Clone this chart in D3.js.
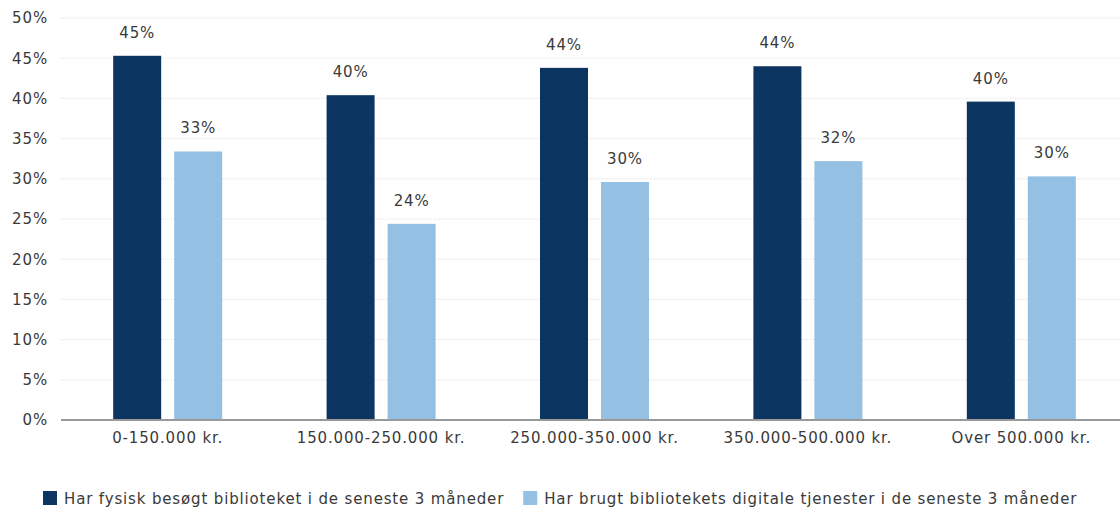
<!DOCTYPE html>
<html><head><meta charset="utf-8">
<script src="https://cdn.jsdelivr.net/npm/d3@7"></script>
<style>body{margin:0;background:#fff}svg{display:block}text{font-family:"DejaVu Sans",sans-serif;fill:#3a3a3a;letter-spacing:0.85px}</style>
</head><body><svg id="c" width="1120" height="507"></svg>
<script>
const categories=["0-150.000 kr.","150.000-250.000 kr.","250.000-350.000 kr.","350.000-500.000 kr.","Over 500.000 kr."];
const seriesNames=["Har fysisk besøgt biblioteket i de seneste 3 måneder","Har brugt bibliotekets digitale tjenester i de seneste 3 måneder"];
const physical=[45.3,40.4,43.8,44.0,39.6];
const digital=[33.4,24.4,29.6,32.2,30.3];
const yTicks=[0,5,10,15,20,25,30,35,40,45,50];
const colors=["#0c3561","#94c1e3"];

const svg=d3.select("#c");
const W=1120,H=507;
const x=d3.scaleBand().domain(categories).range([61,1128]);
const y=d3.scaleLinear().domain([0,50]).range([420,18]);
const bw=48,gap=13;

svg.append("g").selectAll("line").data(yTicks.filter(d=>d>0)).join("line")
 .attr("x1",61).attr("x2",W).attr("y1",d=>y(d)).attr("y2",d=>y(d))
 .attr("stroke","#ececec").attr("stroke-width",1).attr("stroke-dasharray","3,1");

const yAxis=d3.axisLeft(y).tickValues(yTicks).tickFormat(d=>d+"%").tickSize(0).tickPadding(13);
const ya=svg.append("g").attr("transform","translate(61,0)").call(yAxis);
ya.select(".domain").remove();
ya.selectAll("text").attr("font-size",15).attr("fill","#3a3a3a").style("font-family","DejaVu Sans");

const data=[physical,digital];
data.forEach((vals,si)=>{
  const off=si===0?-(bw+gap/2):gap/2;
  const g=svg.append("g");
  g.selectAll("rect").data(vals).join("rect")
   .attr("x",(d,i)=>x(categories[i])+x.bandwidth()/2+off)
   .attr("width",bw)
   .attr("y",d=>y(d)).attr("height",d=>y(0)-y(d))
   .attr("fill",colors[si]);
  g.selectAll("text").data(vals).join("text")
   .attr("x",(d,i)=>x(categories[i])+x.bandwidth()/2+off+bw/2)
   .attr("y",d=>y(d)-18)
   .attr("text-anchor","middle").attr("font-size",15)
   .text(d=>Math.round(d)+"%");
});

const xAxis=d3.axisBottom(x).tickSize(0).tickPadding(12);
const xa=svg.append("g").attr("transform",`translate(0,${y(0)})`).call(xAxis);
xa.select(".domain").attr("stroke","#999").attr("stroke-width",2).attr("d","M61,0H1128");
xa.selectAll("text").attr("font-size",15).attr("fill","#3a3a3a").style("font-family","DejaVu Sans");

const leg=svg.append("g").attr("transform","translate(43,491)");
let lx=0;
seriesNames.forEach((n,i)=>{
  const g=leg.append("g").attr("transform",`translate(${lx},0)`);
  g.append("rect").attr("width",14).attr("height",14).attr("fill",colors[i]);
  const t=g.append("text").attr("x",21).attr("y",13).attr("font-size",15).text(n);
  lx+=21+t.node().getComputedTextLength()+19;
});
</script></body></html>
